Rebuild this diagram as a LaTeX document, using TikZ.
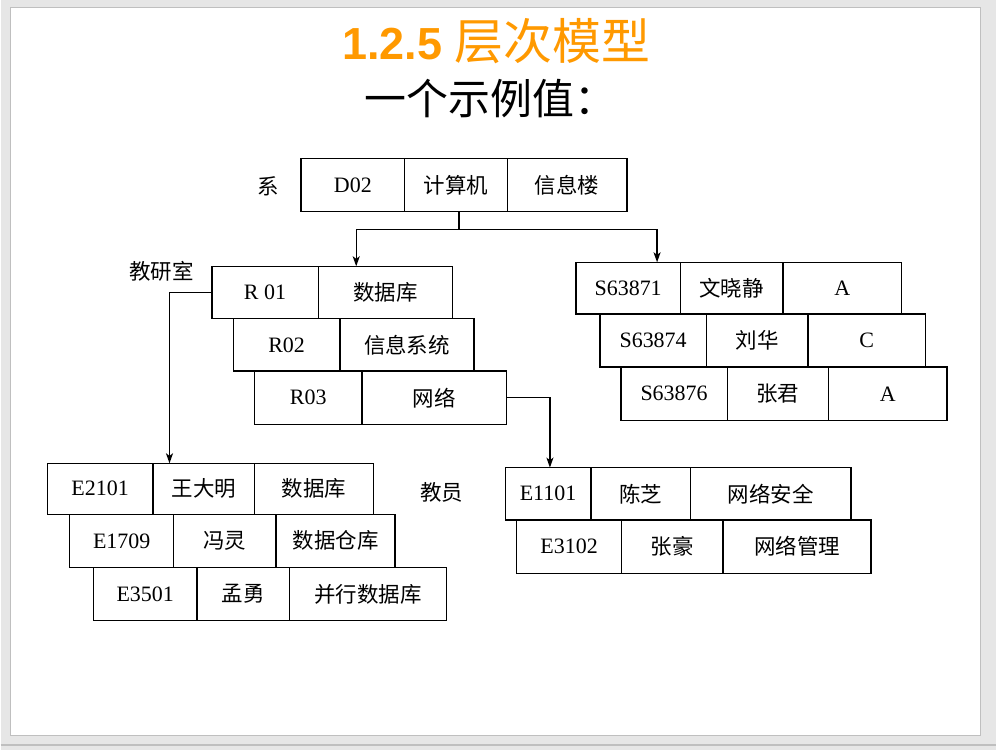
\documentclass[tikz,border=0pt]{standalone}
\usepackage{fontspec}
\setmainfont{Liberation Serif}
\newfontfamily\cjk{Noto Sans CJK SC}
\newfontfamily\titlefont{Liberation Sans}
\usetikzlibrary{arrows.meta}

\definecolor{pagegray}{HTML}{E6E6E6}
\definecolor{edgegray}{HTML}{BFBFBF}
\definecolor{titleorange}{HTML}{FF9900}

\tikzset{
  cell/.style={draw=black, line width=1.4pt, inner sep=0pt, anchor=center,
    font=\fontsize{22}{24}\selectfont},
  zh/.style={font=\cjk\fontsize{21.5}{24}\selectfont},
  tag/.style={inner sep=0pt, font=\cjk\fontsize{21.5}{24}\selectfont},
  link/.style={draw=black, line width=1.4pt},
  arr/.style={link, -{Stealth[length=10pt,width=7pt,inset=2.5pt]}}
}

% one record field: name, left, right, top, bottom, text, extra style
\newcommand\field[7]{%
  \node[cell,#7, minimum width={#3pt-#2pt}, minimum height={#5pt-#4pt}]
    (#1) at ({(#2+#3)/2},{(#4+#5)/2}) {#6};}

\begin{document}
\begin{tikzpicture}[x=1pt,y=-1pt]
  % slide frame
  \fill[pagegray] (0,0) rectangle (997,751);
  \draw[edgegray, line width=1.5pt] (0,746) -- (997,746);
  \filldraw[fill=white, draw=edgegray, line width=1pt] (10,8) rectangle (981.5,737);
  \useasboundingbox (0,0) rectangle (997,751);

  % heading
  \node[anchor=base west, inner sep=0pt, text=titleorange] (title) at (342,60)
    {\titlefont\bfseries\fontsize{45}{50}\selectfont 1.2.5 {\cjk\mdseries\fontsize{49}{50}\selectfont 层次模型}};
  \node[anchor=west, inner sep=0pt] (sub) at (364,99)
    {\cjk\fontsize{42}{44}\selectfont 一个示例值：};

  % department record
  \field{d1}{300.7}{404.6}{159}{211.7}{D02}{}
  \field{d2}{404.6}{507.5}{159}{211.7}{计算机}{zh}
  \field{d3}{507.5}{627}{159}{211.7}{信息楼}{zh}
  \node[tag] (lbld) at (268,187) {系};

  % research-office records
  \field{r1a}{211.4}{318}{266.7}{319}{R 01}{}
  \field{r1b}{318}{452.5}{266.7}{319}{数据库}{zh}
  \field{r2a}{233}{339.6}{319}{371.7}{R02}{}
  \field{r2b}{339.6}{474}{319}{371.7}{信息系统}{zh}
  \field{r3a}{254}{361.8}{371.7}{425}{R03}{}
  \field{r3b}{361.8}{506.4}{371.7}{425}{网络}{zh}
  \node[tag] (lblr) at (161,272) {教研室};

  % student records
  \field{s1a}{576}{680.7}{262.7}{314.3}{S63871}{}
  \field{s1b}{680.7}{783.3}{262.7}{314.3}{文晓静}{zh}
  \field{s1c}{783.3}{902.3}{262.7}{314.3}{A}{}
  \field{s2a}{600}{706.7}{314.3}{367.7}{S63874}{}
  \field{s2b}{706.7}{808.3}{314.3}{367.7}{刘华}{zh}
  \field{s2c}{808.3}{926}{314.3}{367.7}{C}{}
  \field{s3a}{621}{727.7}{367.7}{421}{S63876}{}
  \field{s3b}{727.7}{829}{367.7}{421}{张君}{zh}
  \field{s3c}{829}{947.7}{367.7}{421}{A}{}

  % teacher records under R01
  \field{e1a}{46.7}{152.3}{464}{515}{E2101}{}
  \field{e1b}{152.3}{254.3}{464}{515}{王大明}{zh}
  \field{e1c}{254.3}{373.3}{464}{515}{数据库}{zh}
  \field{e2a}{69}{173.3}{515}{568.3}{E1709}{}
  \field{e2b}{173.3}{275.7}{515}{568.3}{冯灵}{zh}
  \field{e2c}{275.7}{395}{515}{568.3}{数据仓库}{zh}
  \field{e3a}{92.7}{196.7}{568.3}{621.7}{E3501}{}
  \field{e3b}{196.7}{289.3}{568.3}{621.7}{孟勇}{zh}
  \field{e3c}{289.3}{446.7}{568.3}{621.7}{并行数据库}{zh}
  \node[tag] (lble) at (441.7,493) {教员};

  % teacher records under R03
  \field{f1a}{505.3}{591}{468.3}{520.7}{E1101}{}
  \field{f1b}{591}{690.7}{468.3}{520.7}{陈芝}{zh}
  \field{f1c}{690.7}{851.7}{468.3}{520.7}{网络安全}{zh}
  \field{f2a}{516.7}{621.7}{520.7}{574.3}{E3102}{}
  \field{f2b}{621.7}{723.3}{520.7}{574.3}{张豪}{zh}
  \field{f2c}{723.3}{871.7}{520.7}{574.3}{网络管理}{zh}

  % parent-child links
  \coordinate (split) at (459,230);
  \coordinate (toR) at (356,266.7);
  \coordinate (toS) at (657.3,262.7);
  \coordinate (toE) at (169,464);
  \coordinate (toF) at (550,468.3);
  \draw[link] (d2.south -| split) -- (split);
  \draw[arr] (split) -| (toR);
  \draw[arr] (split) -| (toS);
  \draw[arr] (r1a.west) -| (toE);
  \draw[arr] (r3b.east) -| (toF);
\end{tikzpicture}
\end{document}
